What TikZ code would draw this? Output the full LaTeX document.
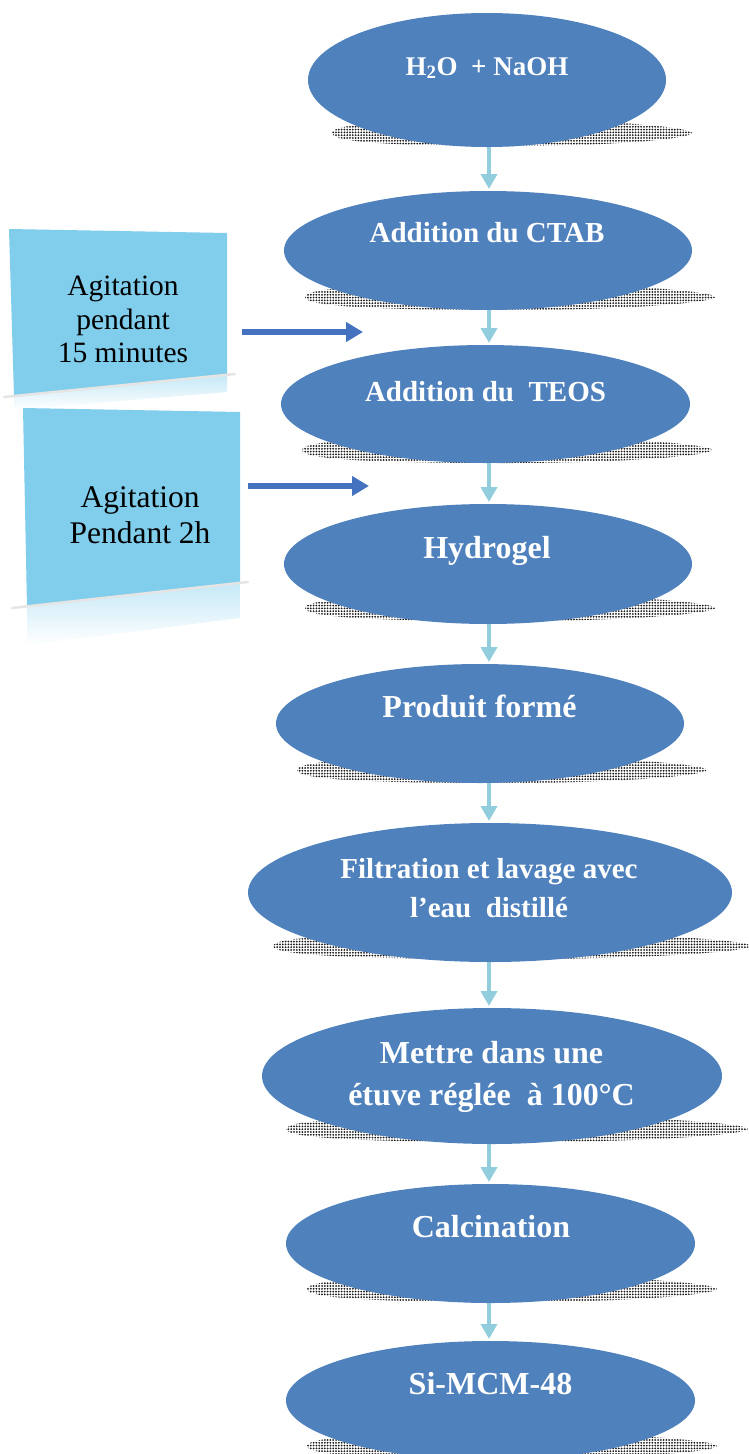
\documentclass[tikz,border=0pt]{standalone}
\usepackage{fontspec}
\setmainfont{Liberation Serif}
\usetikzlibrary{shapes.geometric,arrows.meta,patterns.meta}

\definecolor{stepblue}{RGB}{79,129,189}
\definecolor{flowcyan}{RGB}{146,205,221}
\definecolor{pushblue}{RGB}{68,114,190}
\definecolor{boxcyan}{RGB}{128,205,236}

\tikzset{
    stepnode/.style={ellipse, fill=stepblue, inner sep=0pt, outer sep=0pt},
    steplabel/.style={text=white, inner sep=0pt, align=center, font=\fontsize{32}{40}\selectfont\bfseries},
    stepshadow/.style={pattern={Dots[distance=2.8pt,radius=1pt]}, pattern color=black!90},
    flow/.style={flowcyan, line width=4pt, shorten >=2pt, -{Triangle[width=16pt,length=15pt]}},
    push/.style={pushblue, line width=6.5pt, -{Triangle[width=19pt,length=17pt]}},
    boxlabel/.style={inner sep=0pt, align=center}
}

\begin{document}
\begin{tikzpicture}[x=1pt,y=-1pt]
    \useasboundingbox (0,0) rectangle (749,1454);
    %
    % dotted shadows under the steps
    \foreach \cx/\cy/\w in {512/133/180, 510/297/205, 507/450/205, 510/608/205, 502/770/205,
                            512/946/239, 517/1129/231, 512/1289/205, 512/1446/205}
        \path[stepshadow] ({\cx-\w},\cy) .. controls ({\cx-\w},{\cy-10}) and ({\cx-0.6*\w},{\cy-13}) .. (\cx,{\cy-13})
            .. controls ({\cx+0.6*\w},{\cy-13}) and ({\cx+\w},{\cy-5}) .. ({\cx+\w},\cy)
            .. controls ({\cx+\w},{\cy+5}) and ({\cx+0.6*\w},{\cy+13}) .. (\cx,{\cy+13})
            .. controls ({\cx-0.6*\w},{\cy+13}) and ({\cx-\w},{\cy+10}) .. cycle;
    %
    \path
    (487,80)node(1)[stepnode, minimum width=358pt, minimum height=134pt]{}
    (488,250.5)node(2)[stepnode, minimum width=408pt, minimum height=119pt]{}
    (485.5,404)node(3)[stepnode, minimum width=409pt, minimum height=118pt]{}
    (488,564)node(4)[stepnode, minimum width=408pt, minimum height=120pt]{}
    (480,723.5)node(5)[stepnode, minimum width=408pt, minimum height=119pt]{}
    (490,892.5)node(6)[stepnode, minimum width=484pt, minimum height=139pt]{}
    (492,1076)node(7)[stepnode, minimum width=460pt, minimum height=136pt]{}
    (490.5,1243.5)node(8)[stepnode, minimum width=409pt, minimum height=119pt]{}
    (490.5,1400.5)node(9)[stepnode, minimum width=409pt, minimum height=119pt]{};
    %
    \path
    (487,75)node(t1)[steplabel, anchor=base, font=\fontsize{27}{32}\selectfont\bfseries]{H\textsubscript{2}O~ + NaOH}
    (487,242)node(t2)[steplabel, anchor=base, font=\fontsize{29}{36}\selectfont\bfseries]{Addition du CTAB}
    (485.5,401)node(t3)[steplabel, anchor=base, font=\fontsize{29}{36}\selectfont\bfseries]{Addition du~ TEOS}
    (487,558)node(t4)[steplabel, anchor=base]{Hydrogel}
    (479.5,717)node(t5)[steplabel, anchor=base]{Produit formé}
    (489,888)node(t6)[steplabel, font=\fontsize{29}{39}\selectfont\bfseries]{Filtration et lavage avec\\l’eau~ distillé}
    (491.5,1076.5)node(t7)[steplabel, font=\fontsize{32}{42}\selectfont\bfseries]{Mettre dans une\\étuve réglée~ à 100°C}
    (491,1237)node(t8)[steplabel, anchor=base]{Calcination}
    (490.5,1394)node(t9)[steplabel, anchor=base]{Si-MCM-48};
    %
    \shade[top color=boxcyan!45, bottom color=white] (14,396) -- (227,375) -- (227,392) -- (14,410) -- cycle;
    \fill[boxcyan] (9,229) -- (227,233) -- (227,375) -- (14,396) -- cycle;
    \draw[black!10, line width=2.5pt, line cap=round] (4,397) -- (235,374);
    \shade[top color=boxcyan!45, bottom color=white] (27,607) -- (240,583) -- (240,618) -- (27,645) -- cycle;
    \fill[boxcyan] (23,408) -- (240,412) -- (240,583) -- (27,607) -- cycle;
    \draw[black!10, line width=2.5pt, line cap=round] (12,608) -- (248,582);
    %
    \path
    (123,319.5)node(b1)[boxlabel, font=\fontsize{29.5}{33.5}\selectfont]{Agitation\\pendant\\15 minutes}
    (140,515)node(b2)[boxlabel, font=\fontsize{31.5}{36}\selectfont]{Agitation\\Pendant 2h};
    %
    \coordinate (axis) at (489,0);
    \coordinate (p1) at (242,332);
    \coordinate (q1) at (363,332);
    \coordinate (p2) at (248,486);
    \coordinate (q2) at (369,486);
    %
    \draw[flow] (axis |- 1.south)--(axis |- 2.north);
    \draw[flow] (axis |- 2.south)--(axis |- 3.north);
    \draw[flow] (axis |- 3.south)--(axis |- 4.north);
    \draw[flow] (axis |- 4.south)--(axis |- 5.north);
    \draw[flow] (axis |- 5.south)--(axis |- 6.north);
    \draw[flow] (axis |- 6.south)--(axis |- 7.north);
    \draw[flow] (axis |- 7.south)--(axis |- 8.north);
    \draw[flow] (axis |- 8.south)--(axis |- 9.north);
    \draw[push] (p1)--(q1);
    \draw[push] (p2)--(q2);
\end{tikzpicture}
\end{document}
